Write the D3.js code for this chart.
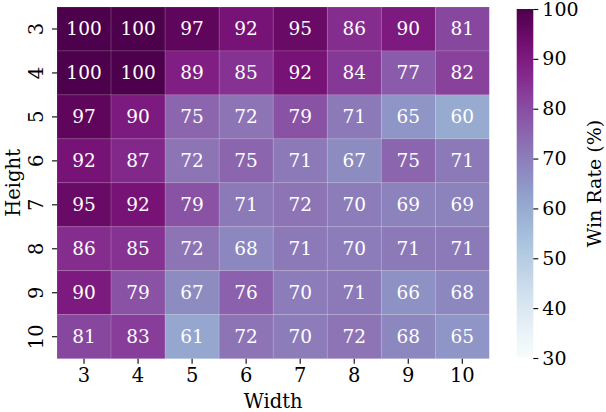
<!DOCTYPE html>
<html>
<head>
<meta charset="utf-8">
<script src="https://cdn.jsdelivr.net/npm/d3@7"></script>
<style>
  body { margin: 0; background: #fff; }
  text { font-family: "DejaVu Serif", serif; }
</style>
</head>
<body>
<div id="chartArea"></div>
<script>
// HEATMAP - win rate by board size

var widths = [3, 4, 5, 6, 7, 8, 9, 10];
var heights = [3, 4, 5, 6, 7, 8, 9, 10];
// one row per height, columns follow widths
var row3  = [100, 100, 97, 92, 95, 86, 90, 81];
var row4  = [100, 100, 89, 85, 92, 84, 77, 82];
var row5  = [97, 90, 75, 72, 79, 71, 65, 60];
var row6  = [92, 87, 72, 75, 71, 67, 75, 71];
var row7  = [95, 92, 79, 71, 72, 70, 69, 69];
var row8  = [86, 85, 72, 68, 71, 70, 71, 71];
var row9  = [90, 79, 67, 76, 70, 71, 66, 68];
var row10 = [81, 83, 61, 72, 70, 72, 68, 65];
var colorTicks = [30, 40, 50, 60, 70, 80, 90, 100];

(function() {
    var rows = [row3, row4, row5, row6, row7, row8, row9, row10];
    var cells = [];
    rows.forEach(function(r, i) {
        r.forEach(function(v, j) {
            cells.push({h: heights[i], w: widths[j], v: v});
        });
    });

    var W = 606, H = 412;
    var left = 57, right = 489.3, top = 7, bottom = 358.7;
    var fs = "19.5px";

    var svg = d3.select("#chartArea").append("svg")
        .attr("width", W)
        .attr("height", H);

    var x = d3.scaleBand().domain(widths).range([left, right]);
    var y = d3.scaleBand().domain(heights).range([top, bottom]);
    var color = d3.scaleSequential(d3.interpolateBuPu).domain([30, 100]);

    // cells
    svg.selectAll(".cell")
        .data(cells)
        .enter().append("rect")
        .attr("class", "cell")
        .attr("x", function(d) { return x(d.w); })
        .attr("y", function(d) { return y(d.h); })
        .attr("width", x.bandwidth())
        .attr("height", y.bandwidth())
        .attr("fill", function(d) { return color(d.v); })
        .attr("stroke", "rgba(255,255,255,0.2)")
        .attr("stroke-width", 0.6);

    svg.selectAll(".val")
        .data(cells)
        .enter().append("text")
        .attr("class", "val")
        .attr("x", function(d) { return x(d.w) + x.bandwidth() / 2; })
        .attr("y", function(d) { return y(d.h) + y.bandwidth() / 2; })
        .attr("text-anchor", "middle")
        .attr("dominant-baseline", "central")
        .attr("fill", "#fff")
        .attr("font-size", "18.5px")
        .text(function(d) { return d.v; });

    // x axis
    var xAxis = svg.append("g")
        .attr("transform", "translate(0," + bottom + ")")
        .call(d3.axisBottom(x).tickSize(5).tickPadding(4));
    xAxis.select(".domain").remove();
    xAxis.selectAll("text").attr("font-size", fs).attr("fill", "#000")
        .attr("font-family", "DejaVu Serif");
    xAxis.selectAll("line").attr("stroke", "#000").attr("stroke-width", 1.1);

    svg.append("text")
        .attr("x", (left + right) / 2)
        .attr("y", 408)
        .attr("text-anchor", "middle")
        .attr("font-size", fs)
        .text("Width");

    // y axis (labels rotated)
    var yAxis = svg.append("g")
        .attr("transform", "translate(" + left + ",0)")
        .call(d3.axisLeft(y).tickSize(5).tickPadding(4));
    yAxis.select(".domain").remove();
    yAxis.selectAll("line").attr("stroke", "#000").attr("stroke-width", 1.1);
    yAxis.selectAll("text")
        .attr("font-size", fs).attr("fill", "#000")
        .attr("font-family", "DejaVu Serif")
        .attr("x", null).attr("dy", null)
        .attr("text-anchor", "middle")
        .attr("dominant-baseline", "central")
        .attr("transform", "translate(-21,0)rotate(-90)");

    svg.append("text")
        .attr("transform", "translate(13," + ((top + bottom) / 2) + ")rotate(-90)")
        .attr("text-anchor", "middle")
        .attr("dominant-baseline", "central")
        .attr("font-size", fs)
        .text("Height");

    // colorbar
    var cbLeft = 516.7, cbW = 16.6, cbTop = 9, cbBottom = 358;
    var cy = d3.scaleLinear().domain([30, 100]).range([cbBottom, cbTop]);
    var defs = svg.append("defs");
    var grad = defs.append("linearGradient")
        .attr("id", "cbgrad")
        .attr("x1", 0).attr("y1", 1).attr("x2", 0).attr("y2", 0);
    d3.range(0, 1.0001, 0.05).forEach(function(t) {
        grad.append("stop")
            .attr("offset", t)
            .attr("stop-color", color(30 + t * 70));
    });
    svg.append("rect")
        .attr("x", cbLeft)
        .attr("y", cbTop)
        .attr("width", cbW)
        .attr("height", cbBottom - cbTop)
        .attr("fill", "url(#cbgrad)");

    var cAxis = svg.append("g")
        .attr("transform", "translate(" + (cbLeft + cbW) + ",0)")
        .call(d3.axisRight(cy).tickValues(colorTicks).tickSize(5).tickPadding(4));
    cAxis.select(".domain").remove();
    cAxis.selectAll("line").attr("stroke", "#000").attr("stroke-width", 1.1);
    cAxis.selectAll("text").attr("font-size", "19px").attr("fill", "#000")
        .attr("font-family", "DejaVu Serif");

    svg.append("text")
        .attr("transform", "translate(594," + ((cbTop + cbBottom) / 2) + ")rotate(-90)")
        .attr("text-anchor", "middle")
        .attr("dominant-baseline", "central")
        .attr("font-size", "19px")
        .text("Win Rate (%)");
})();
</script>
</body>
</html>
